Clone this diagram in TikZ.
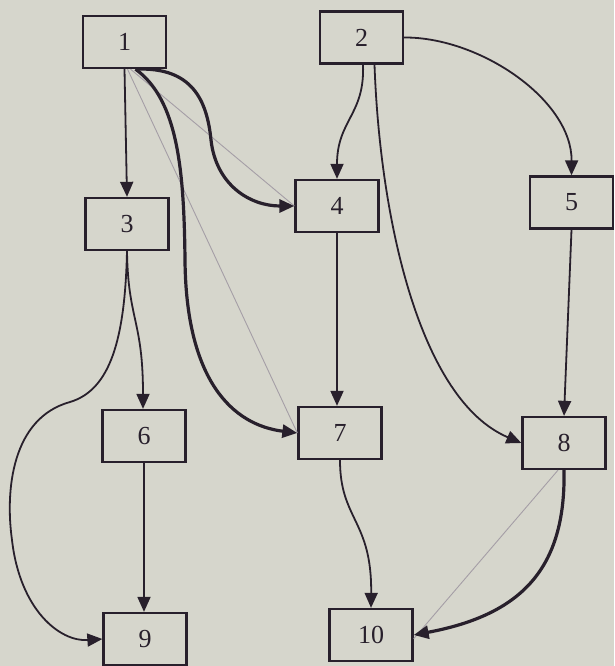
\documentclass[tikz,border=0pt]{standalone}
\usepackage{fontspec}
\setmainfont{Liberation Serif}
\usetikzlibrary{arrows.meta}
\definecolor{paper}{RGB}{214,214,204}
\definecolor{ink}{RGB}{40,32,44}
\definecolor{faint}{RGB}{165,158,166}
\begin{document}
\begin{tikzpicture}[x=1pt,y=-1pt,
  box/.style={draw=ink, line width=2.3pt, fill=paper, minimum width=83pt,
    minimum height=52pt, inner sep=0pt, font=\fontsize{26}{30}\selectfont, text=ink},
  edge/.style={draw=ink, line width=1.8pt, -{Triangle[length=15pt,width=13pt]}},
  heavy/.style={edge, line width=3.2pt},
  faintline/.style={draw=faint, line width=0.9pt}]
  % page
  \fill[paper] (0,0) rectangle (614,666);
  \useasboundingbox (0,0) rectangle (614,666);

  % boxes
  \node[box] (n1)  at (124.5,42)  {1};
  \node[box] (n2)  at (361.5,37.5) {2};
  \node[box] (n3)  at (127,224)   {3};
  \node[box] (n4)  at (337,206)   {4};
  \node[box] (n5)  at (571.5,202.5) {5};
  \node[box] (n6)  at (144,436)   {6};
  \node[box] (n7)  at (340,433)   {7};
  \node[box] (n8)  at (564,443)   {8};
  \node[box] (n9)  at (145,639)   {9};
  \node[box] (n10) at (371,635)   {10};

  % faint straight links
  \draw[faintline] ([xshift=6pt]n1.south) -- (n4.west);
  \draw[faintline] ([xshift=3pt]n1.south) -- (n7.west);
  \draw[faintline] ([xshift=-6pt]n8.south) -- (n10.-5);

  % arrows
  \draw[edge] (n1.south) -- (n3.north);
  \draw[heavy] ([xshift=12pt]n1.south) .. controls (192,67) and (207,100) .. (211,140)
     .. controls (216,185) and (250,206) .. (n4.west);
  \draw[heavy] ([xshift=11pt]n1.south) .. controls (178,100) and (184,170) .. (185,260)
     .. controls (186,380) and (232,425) .. (n7.west);
  \draw[edge] ([xshift=1.5pt]n2.south) .. controls (365,115) and (337,120) .. (n4.north);
  \draw[edge] (n2.east) .. controls (480,37) and (572,100) .. (n5.north);
  \draw[edge] ([xshift=13pt]n2.south) .. controls (380,220) and (420,400) .. (n8.west);
  \draw[edge] (n3.south) .. controls (128,320) and (143,320) .. ([xshift=-1pt]n6.north);
  \draw[edge] (n3.south) .. controls (125,340) and (110,390) .. (70,402)
     .. controls (12,418) and (5,490) .. (12,540)
     .. controls (20,610) and (60,642) .. (n9.west);
  \draw[edge] (n4.south) -- (n4.south |- n7.north);
  \draw[edge] (n5.south) -- (n8.north);
  \draw[edge] (n6.south) -- (n6.south |- n9.north);
  \draw[edge] (n7.south) .. controls (340,520) and (372,520) .. (n10.north);
  \draw[heavy] (n8.south) .. controls (566,570) and (520,615) .. (n10.east);
\end{tikzpicture}
\end{document}
